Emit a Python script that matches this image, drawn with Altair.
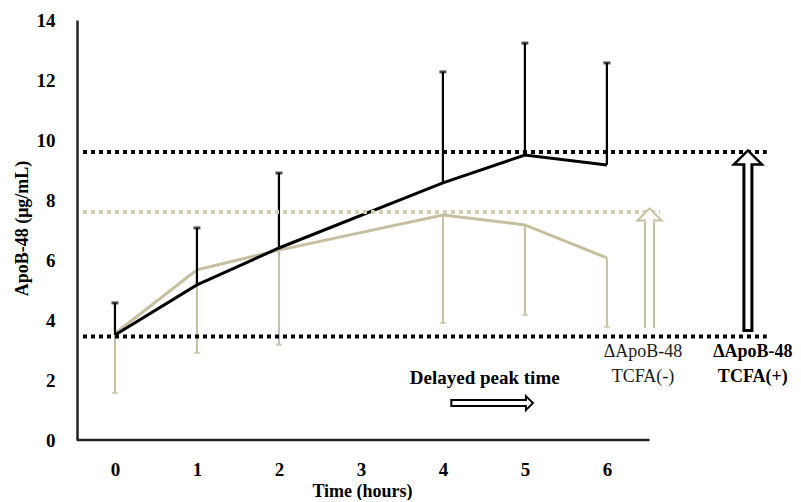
import altair as alt
import pandas as pd

# ---------------- data ----------------
hours = [0, 1, 2, 4, 5, 6]
pos_mean = [3.5, 5.17, 6.4, 8.57, 9.5, 9.17]        # TCFA(+) mean (black)
pos_upper = [4.57, 7.07, 8.9, 12.27, 13.23, 12.57]  # TCFA(+) upper error
neg_mean = [3.55, 5.67, 6.33, 7.5, 7.17, 6.07]      # TCFA(-) mean (tan)
neg_lower = [1.57, 2.9, 3.17, 3.9, 4.17, 3.77]      # TCFA(-) lower error

x_ticks = [0, 1, 2, 3, 4, 5, 6]
y_ticks = [0, 2, 4, 6, 8, 10, 12, 14]

# dotted reference levels
ref_level = [9.6, 7.6, 3.45]
ref_start = [-0.39, -0.39, -0.39]
ref_end = [7.95, 6.65, 7.95]
ref_group = ["pos", "neg", "pos"]

# vertical delta arrows
arr_x = [6.52, 7.72]
arr_base = [3.73, 3.6]
arr_head_base = [7.27, 9.17]
arr_head_mid = [7.52, 9.42]
arr_group = ["neg", "pos"]

# "delayed peak time" arrow
delay_x = [4.09]
delay_x_end = [5.01]
delay_head = [5.055]
delay_y = [1.23]

# annotation texts
txt_label = ["Delayed peak time", "\u0394ApoB-48", "TCFA(-)", "\u0394ApoB-48", "TCFA(+)"]
txt_x = [4.51, 6.44, 6.44, 7.78, 7.78]
txt_y = [2.07, 2.93, 2.1, 2.93, 2.1]
txt_group = ["delay", "neg", "neg", "pos", "pos"]

X_MIN, X_MAX = -0.463, 8.27
X_AXIS_END = 6.52

SERIF = "Liberation Serif"
BLACK = "#000000"
TAN = "#c6bf9f"
TAN_DOT = "#d2cdb3"

xs = alt.Scale(domain=[X_MIN, X_MAX], nice=False, zero=False)
ys = alt.Scale(domain=[0, 14], nice=False, zero=False)

x_axis = alt.Axis(values=x_ticks, domain=False, ticks=False, tickSize=0, grid=False,
                  labelFont=SERIF, labelFontWeight="bold", labelFontSize=19,
                  labelColor=BLACK, labelPadding=20, format="d",
                  title="Time (hours)", titleFont=SERIF, titleFontWeight="bold",
                  titleFontSize=18, titleColor=BLACK, titleX=285, titleY=51,
                  titleBaseline="middle")
y_axis = alt.Axis(values=y_ticks, domain=True, domainColor="#222222", domainWidth=2.5,
                  ticks=False, tickSize=0, grid=False,
                  labelFont=SERIF, labelFontWeight="bold", labelFontSize=19,
                  labelColor=BLACK, labelPadding=22, format="d",
                  title="ApoB-48 (\u03bcg/mL)", titleFont=SERIF, titleFontWeight="bold",
                  titleFontSize=18, titleColor=BLACK, titleX=-55, titleY=208,
                  titleBaseline="middle")


def X(f):
    return alt.X(f"{f}:Q", scale=xs, axis=x_axis)


def Y(f):
    return alt.Y(f"{f}:Q", scale=ys, axis=y_axis)


series = pd.DataFrame({"h": hours, "pm": pos_mean, "pu": pos_upper,
                       "nm": neg_mean, "nl": neg_lower})

# x-axis line (shorter than the plot area)
axis_df = pd.DataFrame({"x": [X_MIN], "x2": [X_AXIS_END], "y": [0]})
x_line = alt.Chart(axis_df).mark_rule(color="#222222", strokeWidth=2.5).encode(
    x=X("x"), x2="x2", y=Y("y"))

# tan series
neg_err = alt.Chart(series).mark_rule(color=TAN, strokeWidth=2).encode(
    x=X("h"), y=Y("nl"), y2="nm")
neg_cap = alt.Chart(series).mark_tick(color=TAN, orient="horizontal", size=6, thickness=2).encode(
    x=X("h"), y=Y("nl"))
neg_line = alt.Chart(series).mark_line(color=TAN, strokeWidth=3).encode(
    x=X("h"), y=Y("nm"))

# black series
pos_err = alt.Chart(series).mark_rule(color=BLACK, strokeWidth=2.2).encode(
    x=X("h"), y=Y("pm"), y2="pu")
pos_cap = alt.Chart(series).mark_tick(color=BLACK, orient="horizontal", size=7, thickness=3).encode(
    x=X("h"), y=Y("pu"))
pos_line = alt.Chart(series).mark_line(color=BLACK, strokeWidth=3).encode(
    x=X("h"), y=Y("pm"))

# dotted levels
ref_df = pd.DataFrame({"x": ref_start, "x2": ref_end, "y": ref_level, "g": ref_group})
ref_pos = alt.Chart(ref_df).transform_filter(alt.datum.g == "pos").mark_rule(
    color=BLACK, strokeWidth=4, strokeDash=[4, 4]).encode(x=X("x"), x2="x2", y=Y("y"))
ref_neg = alt.Chart(ref_df).transform_filter(alt.datum.g == "neg").mark_rule(
    color=TAN_DOT, strokeWidth=4, strokeDash=[4, 4]).encode(x=X("x"), x2="x2", y=Y("y"))

# vertical hollow arrows
arr_df = pd.DataFrame({"x": arr_x, "b": arr_base, "hb": arr_head_base,
                       "hm": arr_head_mid, "g": arr_group})
UP = "M-1,0.5L0,-0.5L1,0.5Z"
layers_arrows = []
for g, col, outer, inner, hsize, sw, gap in [("neg", TAN, 11, 7, 576, 2, 0.0),
                                               ("pos", BLACK, 11, 5, 784, 2.5, 0.1)]:
    sub = alt.Chart(arr_df).transform_filter(alt.datum.g == g)
    shaft = sub.mark_rule(color=col, strokeWidth=outer).encode(x=X("x"), y=Y("b"), y2="hb")
    head = sub.mark_point(shape=UP, size=hsize, filled=False, fill="white", fillOpacity=1,
                          stroke=col, strokeWidth=sw, opacity=1).encode(x=X("x"), y=Y("hm"))
    hollow = sub.transform_calculate(b2=f"datum.b + {gap}").mark_rule(
        color="white", strokeWidth=inner).encode(x=X("x"), y=Y("b2"), y2="hm")
    layers_arrows += [shaft, head, hollow]

# horizontal delayed-peak arrow
delay_df = pd.DataFrame({"x": delay_x, "x2": delay_x_end, "hx": delay_head, "y": delay_y})
RIGHT = "M-0.5,-1L0.5,0L-0.5,1Z"
d_shaft = alt.Chart(delay_df).mark_rule(color=BLACK, strokeWidth=8).encode(
    x=X("x"), x2="x2", y=Y("y"))
d_head = alt.Chart(delay_df).mark_point(shape=RIGHT, size=196, filled=False, fill="white",
                                        fillOpacity=1, stroke=BLACK, strokeWidth=2,
                                        opacity=1).encode(x=X("hx"), y=Y("y"))
d_hollow = alt.Chart(delay_df).transform_calculate(xa="datum.x + 0.025").mark_rule(
    color="white", strokeWidth=4).encode(x=X("xa"), x2="hx", y=Y("y"))

# texts
txt_df = pd.DataFrame({"x": txt_x, "y": txt_y, "t": txt_label, "g": txt_group})
t_delay = alt.Chart(txt_df).transform_filter(alt.datum.g == "delay").mark_text(
    font=SERIF, fontSize=19, fontWeight="bold", color=BLACK).encode(x=X("x"), y=Y("y"), text="t")
t_neg = alt.Chart(txt_df).transform_filter(alt.datum.g == "neg").mark_text(
    font=SERIF, fontSize=18, color="#1a1a1a").encode(x=X("x"), y=Y("y"), text="t")
t_pos = alt.Chart(txt_df).transform_filter(alt.datum.g == "pos").mark_text(
    font=SERIF, fontSize=18, fontWeight="bold", color=BLACK).encode(x=X("x"), y=Y("y"), text="t")

chart = alt.layer(
    x_line, neg_err, neg_cap, neg_line, pos_err, pos_cap, pos_line,
    ref_neg, ref_pos, *layers_arrows, d_shaft, d_head, d_hollow,
    t_delay, t_neg, t_pos
).properties(
    width=716, height=420,
    autosize=alt.AutoSizeParams(type="none"),
    padding={"left": 69, "top": 12, "right": 0, "bottom": 60},
    background="white",
).configure_view(stroke=None)

chart.save("out.html", embed_options={"renderer": "svg", "actions": False})
